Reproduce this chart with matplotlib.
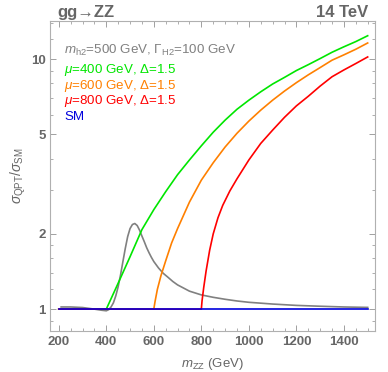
import numpy as np
import matplotlib.pyplot as plt
from matplotlib.ticker import FixedLocator, NullFormatter

plt.rcParams['font.family'] = ['Liberation Sans', 'DejaVu Sans']
plt.rcParams['mathtext.fontset'] = 'custom'
plt.rcParams['mathtext.it'] = 'Liberation Sans:italic'
plt.rcParams['mathtext.rm'] = 'Liberation Sans'

# grey: heavy scalar h2 (m=500, Gamma=100)
m_h2 = [210, 250, 300, 350, 380, 400, 410, 420, 430, 440, 450, 460, 470, 480, 490,
        500, 510, 520, 530, 540, 550, 560, 570, 580, 590, 600, 620, 640, 660, 680,
        700, 750, 800, 850, 900, 950, 1000, 1100, 1200, 1300, 1400, 1500]
r_h2 = [1.02, 1.02, 1.015, 1.0, 0.99, 0.985, 0.995, 1.02, 1.06, 1.13, 1.23, 1.37, 1.55, 1.75, 1.95,
        2.1, 2.18, 2.2, 2.16, 2.07, 1.96, 1.86, 1.76, 1.68, 1.61, 1.55, 1.46, 1.39, 1.34, 1.29,
        1.25, 1.18, 1.14, 1.115, 1.095, 1.078, 1.065, 1.048, 1.035, 1.027, 1.02, 1.016]

# green: mu=400
m_400 = [200, 400, 450, 500, 550, 600, 650, 700, 750, 800, 850, 900, 950, 1000, 1050,
         1100, 1150, 1200, 1250, 1300, 1350, 1400, 1450, 1500]
r_400 = [1.0, 1.0, 1.27, 1.62, 2.08, 2.5, 2.95, 3.45, 3.95, 4.5, 5.1, 5.7, 6.3, 6.85, 7.4,
         7.95, 8.45, 9.0, 9.5, 10.05, 10.65, 11.2, 11.75, 12.4]

# orange: mu=600
m_600 = [200, 600, 605, 615, 630, 650, 675, 700, 750, 800, 850, 900, 950, 1000, 1050, 1100,
         1150, 1200, 1250, 1300, 1350, 1400, 1450, 1500]
r_600 = [1.0, 1.0, 1.07, 1.2, 1.36, 1.56, 1.84, 2.1, 2.68, 3.28, 3.85, 4.45, 5.05, 5.65, 6.25, 6.85,
         7.45, 8.05, 8.65, 9.25, 9.9, 10.4, 10.95, 11.6]

# red: mu=800
m_800 = [200, 800, 803, 810, 820, 835, 850, 870, 890, 920, 950, 1000, 1050, 1100, 1150,
         1200, 1250, 1300, 1350, 1400, 1450, 1500]
r_800 = [1.0, 1.0, 1.08, 1.22, 1.42, 1.72, 2.0, 2.32, 2.6, 2.97, 3.32, 3.95, 4.6, 5.2, 5.85,
         6.5, 7.1, 7.8, 8.5, 9.05, 9.6, 10.2]

# blue: SM
m_sm = [200, 1500]
r_sm = [1.0, 1.0]

labels = [r'$m_{\mathrm{h2}}$=500 GeV, $\Gamma_{\mathrm{H2}}$=100 GeV',
          r'$\mu$=400 GeV, Δ=1.5',
          r'$\mu$=600 GeV, Δ=1.5',
          r'$\mu$=800 GeV, Δ=1.5',
          'SM']
colors = ['#808080', '#00e600', '#ff8000', '#ff0000', '#0000dd']

fig = plt.figure(figsize=(3.88, 3.72), dpi=100)
ax = fig.add_axes([0.130, 0.110, 0.836, 0.8335])

lw = 1.2
ax.plot(m_h2, r_h2, color=colors[0], lw=lw)
ax.plot(m_400, r_400, color=colors[1], lw=lw)
ax.plot(m_600, r_600, color=colors[2], lw=lw)
ax.plot(m_800, r_800, color=colors[3], lw=lw)
ax.plot(m_sm, r_sm, color=colors[4], lw=lw)

ax.set_yscale('log')
ax.set_xlim(165, 1530)
ax.set_ylim(0.817, 14.2)

ax.xaxis.set_major_locator(FixedLocator([200, 400, 600, 800, 1000, 1200, 1400]))
ax.xaxis.set_minor_locator(FixedLocator(np.arange(200, 1501, 50)))
ax.yaxis.set_major_locator(FixedLocator([1, 2, 5, 10]))
ax.yaxis.set_minor_locator(FixedLocator([0.9, 1.2, 1.4, 1.6, 1.8, 3, 4, 6, 7, 8, 9, 12, 14]))
ax.yaxis.set_minor_formatter(NullFormatter())
ax.set_yticklabels(['1', '2', '5', '10'])

txtc = '#666666'
for s in ax.spines.values():
    s.set_color('#b0b0b0')
    s.set_linewidth(0.8)
ax.tick_params(which='both', direction='in', top=True, right=True, color='#a0a0a0',
               labelcolor=txtc, labelsize=9.5)
ax.tick_params(which='major', length=4.5, width=0.7)
ax.tick_params(which='minor', length=2.5, width=0.6)
for lab in ax.get_xticklabels() + ax.get_yticklabels():
    lab.set_fontweight('bold')

ax.set_xlabel(r'$m_{\mathrm{ZZ}}$ (GeV)', color=txtc, fontsize=9.5, labelpad=6)
ax.set_ylabel(r'$\sigma_{\mathrm{QPT}}/\sigma_{\mathrm{SM}}$', color=txtc, fontsize=10, labelpad=2)

fig.text(0.147, 0.967, 'gg→ZZ', color=txtc, fontsize=12, fontweight='bold',
         ha='left', va='center')
fig.text(0.948, 0.967, '14 TeV', color=txtc, fontsize=12, fontweight='bold',
         ha='right', va='center')

ys = [50, 70, 85.5, 101, 117]
for lab, c, y in zip(labels, colors, ys):
    fig.text(64 / 388, 1 - y / 372, lab, color=c, fontsize=9.6, ha='left', va='center')

fig.savefig('out.png', dpi=100)
